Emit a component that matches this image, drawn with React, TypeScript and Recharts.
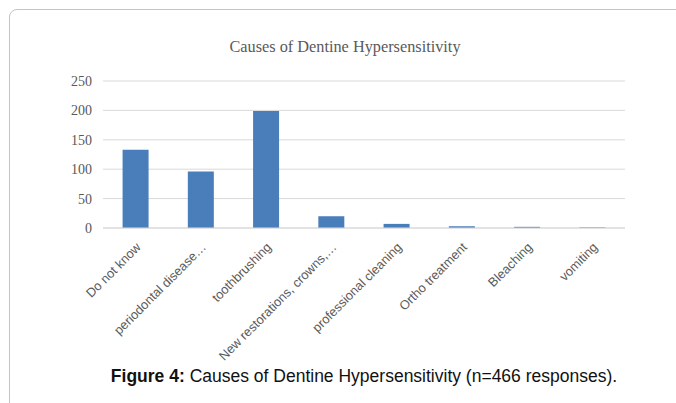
import React from "react";
import { BarChart, Bar, XAxis, YAxis, CartesianGrid } from "recharts";

const categories = [
  "Do not know",
  "periodontal disease…",
  "toothbrushing",
  "New restorations, crowns,…",
  "professional cleaning",
  "Ortho treatment",
  "Bleaching",
  "vomiting",
];
const counts = [133, 96, 199, 20, 7, 3, 2, 1];
const yTicks = [0, 50, 100, 150, 200, 250];

const data = categories.map((c, i) => ({ name: c, value: counts[i] }));

const XTick = (props: any) => {
  const { x, y, payload } = props;
  return (
    <g transform={`translate(${x + 6},${y + 12})`}>
      <text
        x={0}
        y={0}
        textAnchor="end"
        transform="rotate(-45)"
        fill="#595959"
        fontSize={12.8}
        fontFamily="'Liberation Sans', Arial, sans-serif"
      >
        {payload.value}
      </text>
    </g>
  );
};

export default function App() {
  return (
    <div style={{ position: "absolute", left: 0, top: 0, width: 676, height: 403, overflow: "hidden", background: "#fff" }}>
      <div
        style={{
          position: "absolute",
          left: 9,
          top: 9,
          width: 720,
          height: 430,
          border: "1px solid #c4c4c4",
          borderRadius: 8,
          boxSizing: "border-box",
        }}
      />
      <div style={{ position: "absolute", left: 0, top: 0 }}>
        <BarChart
          width={676}
          height={403}
          data={data}
          margin={{ top: 81, right: 51, bottom: 0, left: 0 }}
          barCategoryGap="30%"
        >
          <text
            x={345}
            y={52}
            textAnchor="middle"
            fill="#595959"
            fontSize={16.3}
            fontFamily="'Liberation Serif', 'Times New Roman', serif"
          >
            Causes of Dentine Hypersensitivity
          </text>
          <CartesianGrid vertical={false} stroke="#d9d9d9" />
          <XAxis
            dataKey="name"
            height={175}
            interval={0}
            tickLine={false}
            axisLine={{ stroke: "#d9d9d9" }}
            tick={<XTick />}
          />
          <YAxis
            width={103}
            domain={[0, 250]}
            ticks={yTicks}
            axisLine={false}
            tickLine={false}
            tickMargin={5}
            tick={{ fill: "#595959", fontSize: 14, fontFamily: "'Liberation Serif', 'Times New Roman', serif" }}
          />
          <Bar dataKey="value" fill="#4a7ebb" isAnimationActive={false} />
        </BarChart>
      </div>
      <div
        style={{
          position: "absolute",
          left: 0,
          width: 728,
          top: 366,
          textAlign: "center",
          fontFamily: "'Liberation Sans', Arial, sans-serif",
          fontSize: 17.5,
          color: "#111",
          whiteSpace: "nowrap",
        }}
      >
        <b>Figure 4:</b> Causes of Dentine Hypersensitivity (n=466 responses).
      </div>
    </div>
  );
}
